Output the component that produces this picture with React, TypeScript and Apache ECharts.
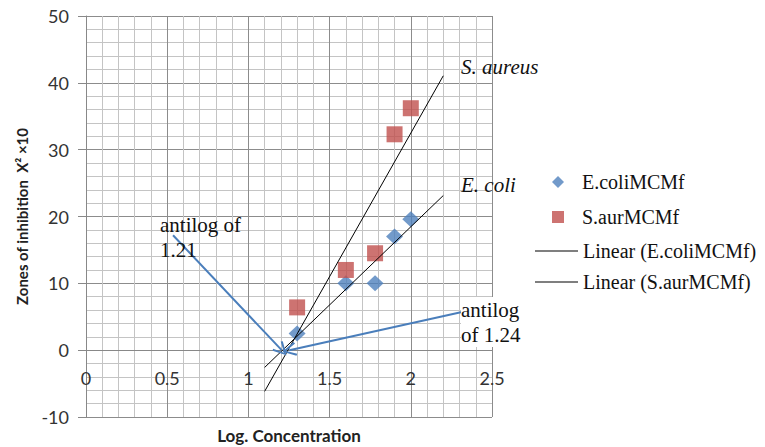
import React, { useEffect, useRef } from "react";
import * as echarts from "echarts";

const logConc = [1.3, 1.6, 1.78, 1.9, 2.0];
const ecoliZones = [2.5, 10, 10, 17, 19.6];
const saurZones = [6.4, 12, 14.5, 32.3, 36.2];
const trendRange = [1.1, 2.2];
const xTicks = [0, 0.5, 1, 1.5, 2, 2.5];
const yTicks = [-10, 0, 10, 20, 30, 40, 50];
const arrow1 = [[0.536, 17.2], [1.205, 0.0]];
const arrow2 = [[2.315, 5.7], [1.252, 0.0]];

function fit(xs: number[], ys: number[]) {
  const n = xs.length;
  const mx = xs.reduce((a, b) => a + b, 0) / n;
  const my = ys.reduce((a, b) => a + b, 0) / n;
  let sxy = 0, sxx = 0;
  for (let i = 0; i < n; i++) {
    sxy += (xs[i] - mx) * (ys[i] - my);
    sxx += (xs[i] - mx) ** 2;
  }
  const b = sxy / sxx;
  const a = my - b * mx;
  return trendRange.map((x) => [x, a + b * x]);
}

const SERIF = "Liberation Serif";
const SANS = "Lato";
const BLUE = "#4F81BD";
const RED = "#C0504D";
const ARROW = "path://M10,0 L20,16 L17.5,17.5 L10,4.5 L2.5,17.5 L0,16 Z";

export default function App() {
  const ref = useRef<HTMLDivElement>(null);
  useEffect(() => {
    if (!ref.current) return;
    const chart = echarts.init(ref.current, null, { renderer: "svg" });
    const arrowLine = (pts: number[][]) => [
      { coord: pts[0], symbol: "none" },
      { coord: pts[1] },
    ];
    const txt = (text: string, left: number, top: number, italic: boolean, bg?: boolean) => ({
      type: "text",
      left,
      top,
      z: 100,
      style: {
        text,
        fontFamily: SERIF,
        fontSize: 21,
        fontStyle: italic ? "italic" : "normal",
        lineHeight: 25,
        fill: "#111",
        backgroundColor: bg ? "#fff" : undefined,
      },
    });
    const legendText = {
      fontFamily: SERIF,
      fontSize: 20,
      lineHeight: 22,
      color: "#111",
    };
    const legendRich = { s: { fontFamily: SERIF, fontSize: 20, lineHeight: 22, color: "#111" } };
    chart.setOption({
      animation: false,
      backgroundColor: "#ffffff",
      textStyle: { fontFamily: SERIF },
      grid: {
        left: 86,
        top: 16,
        right: 273,
        bottom: 30,
        containLabel: false,
        outerBoundsMode: "none",
      },
      xAxis: {
        type: "value",
        min: xTicks[0],
        max: xTicks[xTicks.length - 1],
        interval: 0.5,
        offset: -67,
        name: "Log. Concentration",
        nameLocation: "middle",
        nameGap: 77,
        nameTextStyle: {
          fontFamily: SANS,
          fontWeight: "bold",
          fontSize: 17,
          color: "#222",
        },
        axisLine: { onZero: false, lineStyle: { color: "#888", width: 1 } },
        axisTick: { show: false },
        axisLabel: {
          fontFamily: SANS,
          fontSize: 18,
          color: "#333",
          margin: 19,
        },
        splitLine: { show: true, lineStyle: { color: "#8c8c8c", width: 1 } },
        minorTick: { show: false, splitNumber: 5 },
        minorSplitLine: { show: true, lineStyle: { color: "#c4c4c4", width: 1 } },
      },
      yAxis: {
        type: "value",
        min: yTicks[0],
        max: yTicks[yTicks.length - 1],
        interval: 10,
        name: "Zones of inhibition  X² ×10",
        nameLocation: "middle",
        nameGap: 57,
        nameTextStyle: {
          fontFamily: SANS,
          fontWeight: "bold",
          fontSize: 15,
          color: "#222",
        },
        axisLine: { show: true, onZero: false, lineStyle: { color: "#888", width: 1 } },
        axisTick: { show: true, length: 8, lineStyle: { color: "#888" } },
        axisLabel: {
          fontFamily: SANS,
          fontSize: 18,
          color: "#333",
          margin: 17,
        },
        splitLine: { show: true, lineStyle: { color: "#8c8c8c", width: 1 } },
        minorTick: { show: false, splitNumber: 5 },
        minorSplitLine: { show: true, lineStyle: { color: "#c4c4c4", width: 1 } },
      },
      legend: [
        {
          orient: "vertical",
          left: 547,
          top: 166,
          itemWidth: 12,
          itemHeight: 12,
          itemGap: 13,
          formatter: "{s|{name}}",
          textStyle: { ...legendText, padding: [0, 0, 0, 13], rich: legendRich },
          data: [
            { name: "E.coliMCMf", icon: "diamond" },
            { name: "S.aurMCMf", icon: "rect" },
          ],
        },
        {
          orient: "vertical",
          left: 530,
          top: 235,
          itemWidth: 43,
          itemHeight: 1.2,
          itemGap: 9,
          formatter: "{s|{name}}",
          textStyle: { ...legendText, rich: legendRich },
          data: [
            { name: "Linear (E.coliMCMf)", icon: "rect", itemStyle: { color: "#000" } },
            { name: "Linear (S.aurMCMf)", icon: "rect", itemStyle: { color: "#000" } },
          ],
        },
      ],
      series: [
        {
          name: "E.coliMCMf",
          type: "scatter",
          symbol: "diamond",
          symbolSize: [17, 16],
          itemStyle: { color: BLUE },
          data: logConc.map((x, i) => [x, ecoliZones[i]]),
          z: 2,
          markLine: {
            silent: true,
            symbol: ["none", ARROW],
            symbolSize: [14, 14],
            label: { show: false },
            lineStyle: { color: "#4A7EBB", width: 2, type: "solid" },
            data: [arrowLine(arrow1), arrowLine(arrow2)],
          },
        },
        {
          name: "S.aurMCMf",
          type: "scatter",
          symbol: "rect",
          symbolSize: 16,
          itemStyle: { color: RED },
          data: logConc.map((x, i) => [x, saurZones[i]]),
          z: 3,
        },
        {
          name: "Linear (E.coliMCMf)",
          type: "line",
          showSymbol: false,
          symbol: "none",
          lineStyle: { color: "#000", width: 1 },
          itemStyle: { color: "#000" },
          data: fit(logConc, ecoliZones),
          z: 4,
        },
        {
          name: "Linear (S.aurMCMf)",
          type: "line",
          showSymbol: false,
          symbol: "none",
          lineStyle: { color: "#000", width: 1 },
          itemStyle: { color: "#000" },
          data: fit(logConc, saurZones),
          z: 4,
        },
      ],
      graphic: [
        txt("S. aureus", 461, 54, true),
        txt("E. coli", 461, 172, true),
        txt("antilog of\n1.21", 160, 212, false),
        txt("antilog\nof 1.24", 461, 297, false, true),
      ],
    });
    return () => chart.dispose();
  }, []);
  return <div ref={ref} style={{ width: 765, height: 447, position: "absolute", left: 0, top: 0 }} />;
}
